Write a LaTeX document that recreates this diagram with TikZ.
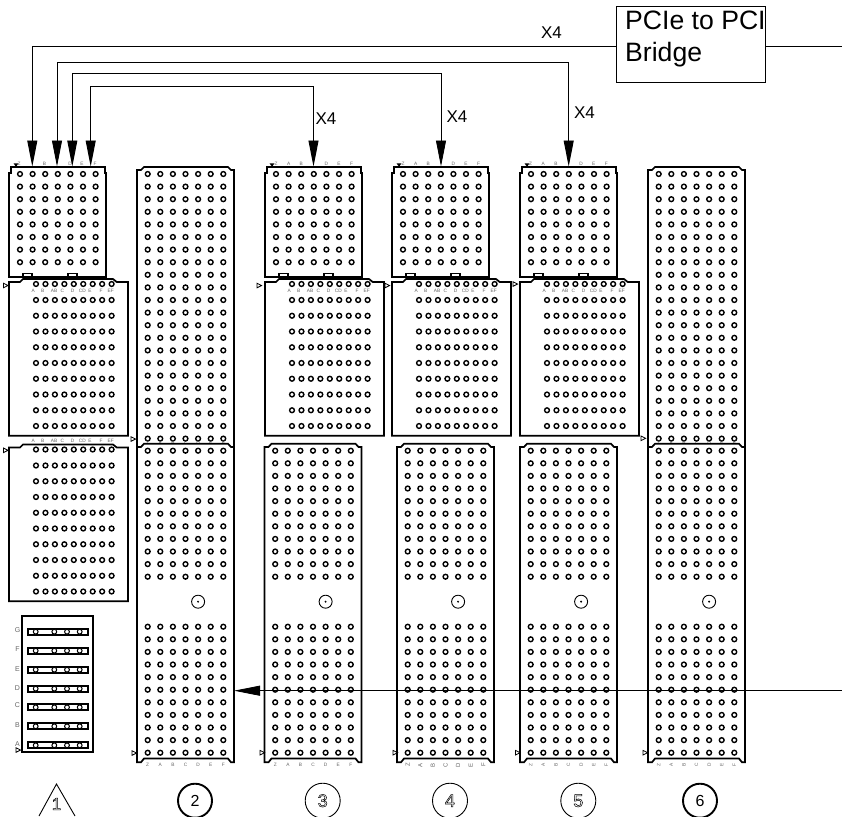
\documentclass[tikz,border=0pt]{standalone}
\usepackage{fontspec}
\setmainfont{Liberation Sans}
\usetikzlibrary{arrows.meta}
\newcommand{\pingrid}[6]{
	\foreach \i in {1,...,#3}
		\foreach \j in {1,...,#4}
			\draw [pin_o] ({#1+(\i-1)*#5},{#2+(\j-1)*#6}) circle (2.4);
}
\newcommand{\hollow}[1]{\special{pdf:code 1 Tr 0.5 w}#1\special{pdf:code 0 Tr}}
\tikzset{
  x=1pt, y=-1pt,
  pin_o/.style = {draw=black, line width=1.4pt},
  mod_o/.style = {draw=black, line width=1.7pt},
  wire/.style = {draw=black, line width=0.9pt},
  wire_a/.style = {wire, -{Triangle[length=26pt,width=10pt]}},
  tick_n/.style = {inner sep=0pt, text=black!60, font=\fontsize{4.8}{5}\selectfont},
  lane_n/.style = {inner sep=0pt, font=\fontsize{17}{18}\selectfont},
  num_thin/.style = {circle, draw=black, line width=0.9pt, minimum size=35pt, inner sep=0pt, font=\fontsize{18}{20}\selectfont},
  num_thick/.style = {circle, draw=black, line width=1.9pt, minimum size=34pt, inner sep=0pt, font=\fontsize{16}{18}\selectfont},
  mark_o/.pic = {\draw [line width=0.8pt] (0,-2.3) -- (4.6,0) -- (0,2.3) -- cycle;},
  mark_z/.pic = {\fill (-2.5,-1.5) -- (2.5,-1.5) -- (0,2) -- cycle;},
  top_mod/.pic = {
	\draw [mod_o] (0,277) -- (0,173) -- (2,173) -- (2,167) -- (95.7,167) -- (95.7,173) -- (97,173) -- (97,277) -- cycle;
	\draw [mod_o, fill=white] (14.3,277) rectangle (22.7,273.5);
	\draw [mod_o, fill=white] (59.3,277) rectangle (67.7,273.5);
	\pingrid{11}{174}{7}{8}{12.6}{12.6}
	\pic at (7,164.8) {mark_z};
  },
  wide_mod/.pic = {
	\draw [mod_o, fill=white] (0,435.7) -- (0,282) -- (11,282) -- (14,279) -- (104,279) -- (107.7,282) -- (119,282) -- (119,435.7) -- cycle;
	\pingrid{27}{284}{9}{1}{9.45}{15.8}
	\pingrid{27}{300}{9}{9}{9.45}{15.75}
  },
  wide_lab/.pic = {
	\foreach \o/\t [count=\i] in {24.3/A,33.7/B,45/AB,53.3/C,63.7/D,73.3/CD,81/E,92/F,101.7/EF}
		\node (t\i) [tick_n] at (\o,290.7) {\t};
  },
  high_mod/.pic = {
	\draw [mod_o] (0,447) -- (0,170) -- (4,170) -- (7,167) -- (91,167) -- (94,170) -- (97,170) -- (97,447);
	\pingrid{10.7}{174}{7}{22}{12.6}{12.6}
	\foreach \t [count=\i] in {Z,A,B,C,D,E,F}
		\node (t\i) [tick_n] at ({10.7+(\i-1)*12.6},442.8) {\t};
  },
  low_mod/.pic = {
	\draw [mod_o] (0,447) -- (4,447) -- (7,443.7) -- (91,443.7) -- (94,447) -- (97,447) -- (97,762.3) -- (94,762.3) -- (91,758.5) -- (7,758.5) -- (4,762.3) -- (0,762.3) -- cycle;
	\pingrid{10.7}{450.7}{7}{11}{12.6}{12.6}
	\pingrid{10.7}{626.7}{7}{11}{12.6}{12.6}
	\draw [line width=0.9pt] (61.1,601.7) circle (6.5);
	\fill (61.1,601.7) circle (1.1);
  }
}
\begin{document}
\begin{tikzpicture}
\useasboundingbox (0,0) rectangle (842,816);
\foreach \l/\n in {9/a,265/c,392/d,520/e}{
	\pic (top\n) at (\l,0) {top_mod};
	\pic (wide\n) at (\l,0) {wide_mod};
	\pic (lab\n) at (\l,0) {wide_lab};
}
\pic (widea2) at (9,165.5) {wide_mod};
\pic (laba2) at (9,150.3) {wide_lab};
\foreach \l/\n in {137/b,648/f}
	\pic (high\n) at (\l,0) {high_mod};
\foreach \l/\n in {137/b,264.5/c,397/d,520/e,648/f}
	\pic (low\n) at (\l,0) {low_mod};
% upper pin letters
\foreach \x/\t [count=\i] in {19/Z,44.5/B,70/D,82/E,95/F}
	\node (upa\i) [tick_n] at (\x,164) {\t};
\foreach \l/\n in {276/c,403/d,530.7/e}
	\foreach \k/\t in {0/Z,1/A,2/B,4/D,5/E,6/F}
		\node (up\n\t) [tick_n] at ({\l+\k*12.6},164) {\t};
% lower pin letters
\foreach \l/\r/\n/\s in {147.7/0/b/4.8,275.3/0/c/4.8,407.7/90/d/6,530.7/90/e/4.8,658.7/90/f/4.8}
	\foreach \k/\t in {0/Z,1/A,2/B,3/C,4/D,5/E,6/F}
		\node (dn\n\t) [tick_n, rotate=\r, font=\fontsize{\s}{6}\selectfont] at ({\l+\k*12.6},765) {\t};
% small triangles
\foreach \x/\y in {3.4/285.5,3.4/450.3,131/439,132/753,16/750,260/752.7,257/285.5,385/285.5,393/752.7,513/284,515.5/752.7,641/438.3,643/752.7}
	\pic at (\x,\y) {mark_o};
% small block
\draw [mod_o] (22,615.7) rectangle (93,751.7);
\foreach \y/\t/\d in {631.7/G/630.3,650.7/F/649.3,669.7/E/668.7,688.7/D/687.7,707.3/C/705.3,726.3/B/724.7,745.3/A/743.7}{
	\draw [mod_o] (28,\y-3) rectangle (87.7,\y+3);
	\foreach \x in {35.7,54.3,67,79.7}
		\draw [line width=1pt, fill=white] (\x,\y) circle (2.4);
	\node (row\t) [tick_n, font=\fontsize{7}{8}\selectfont] at (17.5,\d) {\t};
}
% bridge and lanes
\node (bridge) [draw=black, line width=0.9pt, minimum width=149.7pt, minimum height=75.6pt, inner sep=0pt] at (690.85,44.5) {};
\node (bridge_txt) [anchor=north west, inner sep=0pt, align=left, font=\fontsize{26.6}{32}\selectfont] at (625,11) {PCIe to PCI\\Bridge};
\coordinate (a1) at (32.3,166.5);
\coordinate (a2) at (57,166.5);
\coordinate (a3) at (72.3,166.5);
\coordinate (a4) at (90.7,166.5);
\coordinate (c1) at (313.5,166.5);
\coordinate (d1) at (441,166.5);
\coordinate (e1) at (568.7,166.5);
\coordinate (w2) at (57,62.3);
\coordinate (w3) at (72.3,73);
\coordinate (w4) at (90.7,86);
\coordinate (host) at (842,46);
\coordinate (slot) at (842,690.7);
\coordinate (slot_b) at (234,690.7);
\draw [wire_a] ([yshift=-1.5pt]bridge.west) -| (a1);
\draw [wire] ([yshift=-1.5pt]bridge.east) -- (host);
\draw [wire_a] (w2) -| (e1);
\draw [wire_a] (w2) -- (a2);
\draw [wire_a] (w3) -| (d1);
\draw [wire_a] (w3) -- (a3);
\draw [wire_a] (w4) -| (c1);
\draw [wire_a] (w4) -- (a4);
\draw [wire_a] (slot) -- (slot_b);
\node (x4a) [lane_n] at (551.5,33) {X4};
\node (x4b) [lane_n] at (326,119) {X4};
\node (x4c) [lane_n] at (457,117) {X4};
\node (x4d) [lane_n] at (584.5,112.5) {X4};
% numbers
\coordinate (tri_l) at (39,816);
\coordinate (tri_r) at (75,816);
\coordinate (tri_t) at (56.5,784);
\draw [wire] (tri_l) -- (tri_t) -- (tri_r);
\node (n1) [inner sep=0pt, font=\fontsize{17}{18}\selectfont] at (56.5,804) {\hollow{1}};
\node (n2) [num_thick] at (195,800.7) {2};
\node (n3) [num_thin] at (322.7,800.7) {\hollow{3}};
\node (n4) [num_thin] at (450,800.7) {\hollow{4}};
\node (n5) [num_thin] at (578.3,800.7) {\hollow{5}};
\node (n6) [num_thick] at (700,800.7) {6};
\end{tikzpicture}
\end{document}
